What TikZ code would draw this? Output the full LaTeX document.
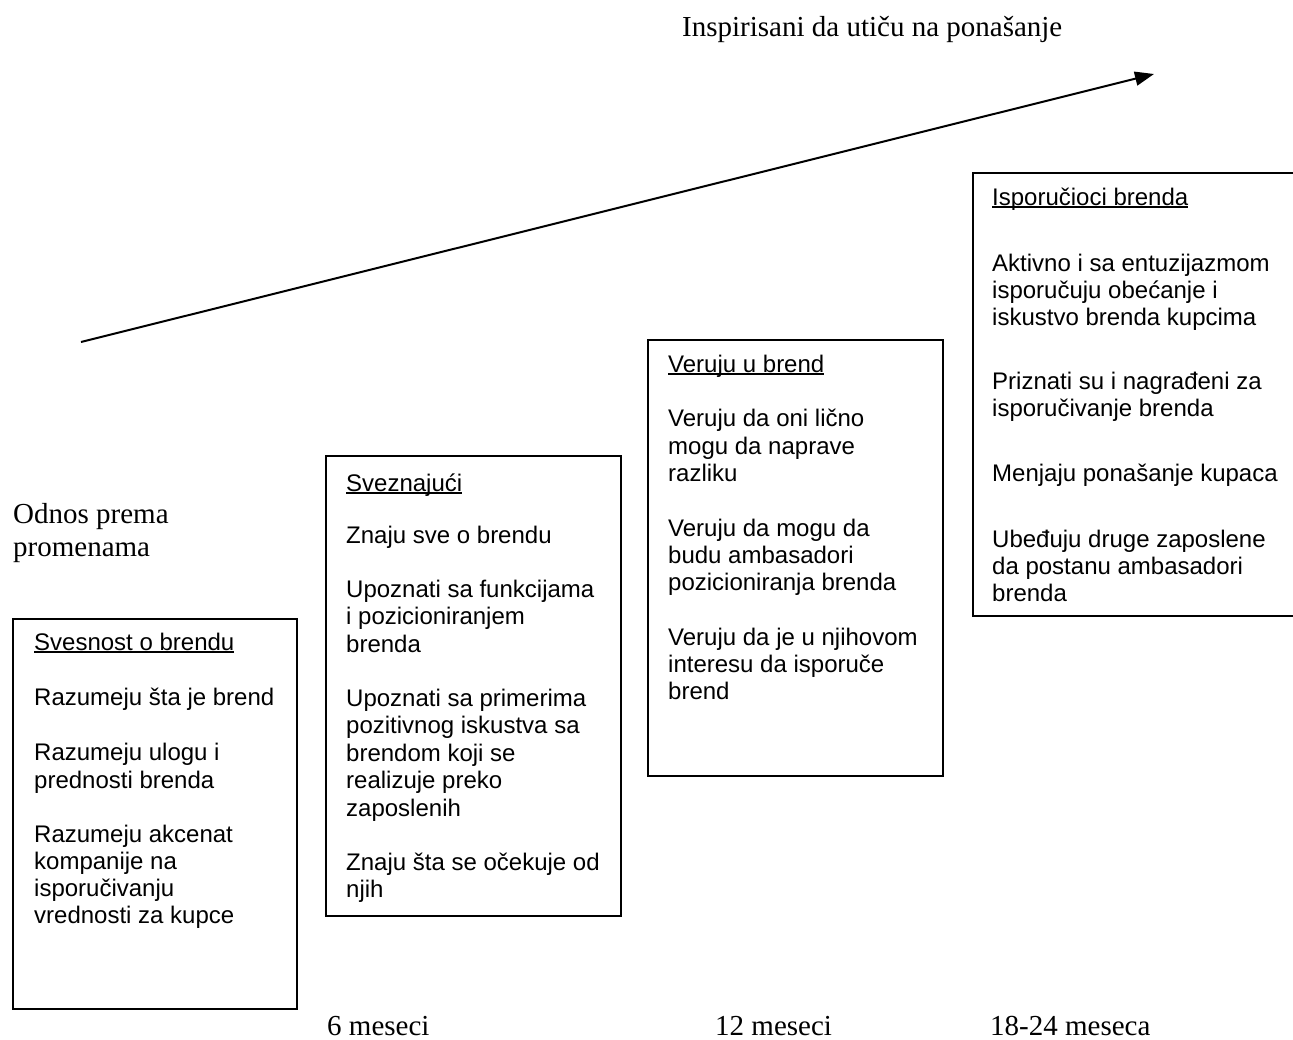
\documentclass[tikz,border=0pt]{standalone}
\usepackage{fontspec}
\setmainfont{Liberation Serif}
\newfontfamily\panelfont{Liberation Sans}
\usetikzlibrary{arrows.meta}
\newsavebox\headbox
% heading with a Word-style underline at a fixed depth
\newcommand\ulhead[1]{\sbox\headbox{#1}\rlap{\rule[-3pt]{\wd\headbox}{1.6pt}}\usebox\headbox}

\begin{document}
\begin{tikzpicture}[x=1pt,y=-1pt,
  panel/.style={draw, line width=1.6pt, anchor=north west, inner sep=0pt},
  ln/.style={anchor=base west, inner sep=0pt, font=\panelfont\fontsize{24}{27}\selectfont},
  lbl/.style={anchor=base west, inner sep=0pt, font=\fontsize{29}{33}\selectfont},
  trend/.style={line width=2pt, -{Triangle[length=19pt,width=14pt]}},
]
\useasboundingbox (0,0) rectangle (1293,1039);
\clip (0,0) rectangle (1293,1039);

% rising arrow
\coordinate (a0) at (81,342);
\coordinate (a1) at (1154,74);
\draw[trend] (a0) -- (a1);

% serif captions
\node[lbl] (goal) at (682,36.5) {Inspirisani da utiču na ponašanje};
\node[lbl] (att1) at (13,523) {Odnos prema};
\node[lbl] (att2) at (13,556) {promenama};
\node[lbl] (m6) at (327,1035) {6 meseci};
\node[lbl] (m12) at (715,1035) {12 meseci};
\node[lbl] (m18) at (990,1035) {18-24 meseca};

% stage 1
\node[panel, minimum width=284pt, minimum height=390pt] (b1) at (12,618) {};
\node[ln] (h1) at (34,650) {\ulhead{Svesnost o brendu}};
\foreach \lineY/\lineT [count=\i] in {
  705/{Razumeju šta je brend},
  760/{Razumeju ulogu i},
  788/{prednosti brenda},
  842/{Razumeju akcenat},
  869/{kompanije na},
  896/{isporučivanju},
  923/{vrednosti za kupce}}
  \node[ln] (s1-\i) at (34,\lineY) {\lineT};

% stage 2
\node[panel, minimum width=295pt, minimum height=460pt] (b2) at (325,455) {};
\node[ln] (h2) at (346,491) {\ulhead{Sveznajući}};
\foreach \lineY/\lineT [count=\i] in {
  543/{Znaju sve o brendu},
  597/{Upoznati sa funkcijama},
  624/{i pozicioniranjem},
  652/{brenda},
  706/{Upoznati sa primerima},
  733/{pozitivnog iskustva sa},
  761/{brendom koji se},
  788/{realizuje preko},
  816/{zaposlenih},
  870/{Znaju šta se očekuje od},
  897/{njih}}
  \node[ln] (s2-\i) at (346,\lineY) {\lineT};

% stage 3
\node[panel, minimum width=295pt, minimum height=436pt] (b3) at (647,339) {};
\node[ln] (h3) at (668,372) {\ulhead{Veruju u brend}};
\foreach \lineY/\lineT [count=\i] in {
  426/{Veruju da oni lično},
  454/{mogu da naprave},
  481/{razliku},
  536/{Veruju da mogu da},
  563/{budu ambasadori},
  590/{pozicioniranja brenda},
  645/{Veruju da je u njihovom},
  672/{interesu da isporuče},
  699/{brend}}
  \node[ln] (s3-\i) at (668,\lineY) {\lineT};

% stage 4 (runs past the right edge)
\node[panel, minimum width=340pt, minimum height=443pt] (b4) at (972,172) {};
\node[ln] (h4) at (992,205) {\ulhead{Isporučioci brenda}};
\foreach \lineY/\lineT [count=\i] in {
  271/{Aktivno i sa entuzijazmom},
  298/{isporučuju obećanje i},
  325/{iskustvo brenda kupcima},
  389/{Priznati su i nagrađeni za},
  416/{isporučivanje brenda},
  481/{Menjaju ponašanje kupaca},
  547/{Ubeđuju druge zaposlene},
  574/{da postanu ambasadori},
  601/{brenda}}
  \node[ln] (s4-\i) at (992,\lineY) {\lineT};
\end{tikzpicture}
\end{document}
